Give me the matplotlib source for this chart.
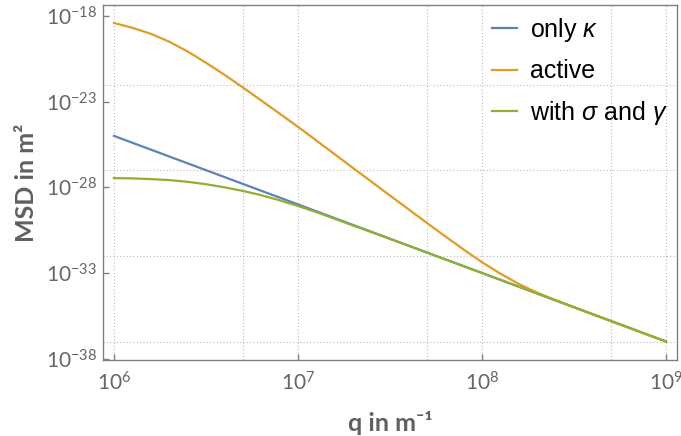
import matplotlib
matplotlib.use("Agg")
import matplotlib.pyplot as plt
import numpy as np
from matplotlib.ticker import FixedLocator, FuncFormatter, NullLocator

# values, as log10 exponents
q_blue = [6.0, 9.0]
msd_blue = [-25.0, -37.0]

q_orange = [6.0, 6.1, 6.2, 6.3, 6.4, 6.5, 6.6, 6.7, 6.8, 6.9, 7.0, 7.1, 7.315,
            7.5, 7.7, 7.8, 7.9, 8.0, 8.1, 8.2, 8.3, 8.4, 8.5, 8.6, 8.8, 9.0]
msd_orange = [-18.41, -18.69, -19.04, -19.50, -20.07, -20.73, -21.43, -22.17,
              -22.93, -23.70, -24.47, -25.27, -27.0, -28.48, -30.07, -30.86,
              -31.63, -32.37, -33.04, -33.64, -34.15, -34.58, -34.99, -35.40,
              -36.2, -37.0]

q_green = [6.0, 6.1, 6.2, 6.3, 6.4, 6.5, 6.6, 6.7, 6.8, 6.9, 7.0, 7.1, 7.2,
           7.4, 7.6, 8.0, 8.5, 9.0]
msd_green = [-27.46, -27.48, -27.52, -27.58, -27.68, -27.82, -28.00, -28.21,
             -28.46, -28.76, -29.09, -29.45, -29.84, -30.62, -31.41, -33.0,
             -35.0, -37.0]

labels = [r"only $\kappa$", "active", r"with $\sigma$ and $\gamma$"]
colors = ["#5E81B5", "#E19C24", "#8FB032"]

x_ticks = [1e6, 1e7, 1e8, 1e9]
y_ticks = [1e-18, 1e-23, 1e-28, 1e-33, 1e-38]
x_grid = [1e6, 5e6, 1e7, 5e7, 1e8, 5e8, 1e9]
y_grid = [1e-22, 1e-27, 1e-32, 1e-37]

plt.rcParams["mathtext.fontset"] = "custom"
plt.rcParams["mathtext.it"] = "Liberation Sans:italic"
plt.rcParams["mathtext.rm"] = "Liberation Sans"

fig = plt.figure(figsize=(6.81, 4.36), dpi=100)
ax = fig.add_axes([0.1512, 0.1743, 0.8429, 0.8142])

ax.set_xscale("log")
ax.set_yscale("log")

curves = [(q_blue, msd_blue), (q_orange, msd_orange), (q_green, msd_green)]
for (qx, my), lab, c in zip(curves, labels, colors):
    ax.plot(np.power(10.0, qx), np.power(10.0, my), color=c, lw=1.6, label=lab)

ax.set_xlim(10 ** 5.94, 10 ** 9.06)
ax.set_ylim(10 ** -38.08, 10 ** -17.36)

# grid lines sit at their own positions, not at the ticks
for g in x_grid:
    ax.axvline(g, color="#bdbdbd", lw=0.8, ls=(0, (1, 2)), zorder=0)
for g in y_grid:
    ax.axhline(g, color="#bdbdbd", lw=0.8, ls=(0, (1, 2)), zorder=0)

fmt = FuncFormatter(lambda v, p: r"$\mathdefault{10^{%d}}$" % round(np.log10(v)))
ax.xaxis.set_major_locator(FixedLocator(x_ticks))
ax.yaxis.set_major_locator(FixedLocator(y_ticks))
ax.xaxis.set_minor_locator(NullLocator())
ax.yaxis.set_minor_locator(NullLocator())
ax.xaxis.set_major_formatter(fmt)
ax.yaxis.set_major_formatter(fmt)

for s in ax.spines.values():
    s.set_color("#808080")
    s.set_linewidth(1.0)

ax.tick_params(direction="in", length=4, width=1, color="#808080",
               labelcolor="#666666", labelsize=15)
ax.tick_params(axis="x", pad=8)
ax.tick_params(axis="y", pad=4)
for lbl in ax.get_xticklabels() + ax.get_yticklabels():
    lbl.set_family(["Lato", "DejaVu Sans"])

ax.set_xlabel("q in m\u207b\u00b9", family=["Lato", "DejaVu Sans"],
              fontweight="bold", fontsize=18, color="#606060", labelpad=12)
ax.set_ylabel("MSD in m\u00b2", family=["Lato", "DejaVu Sans"],
              fontweight="bold", fontsize=18, color="#606060", labelpad=6)

leg = ax.legend(loc="upper left", bbox_to_anchor=(0.677, 0.969), frameon=False,
                prop={"family": "Liberation Sans", "size": 18},
                handlelength=1.0, handletextpad=0.53, labelspacing=0.61,
                borderpad=0, borderaxespad=0)

fig.savefig("out.png", dpi=100)
